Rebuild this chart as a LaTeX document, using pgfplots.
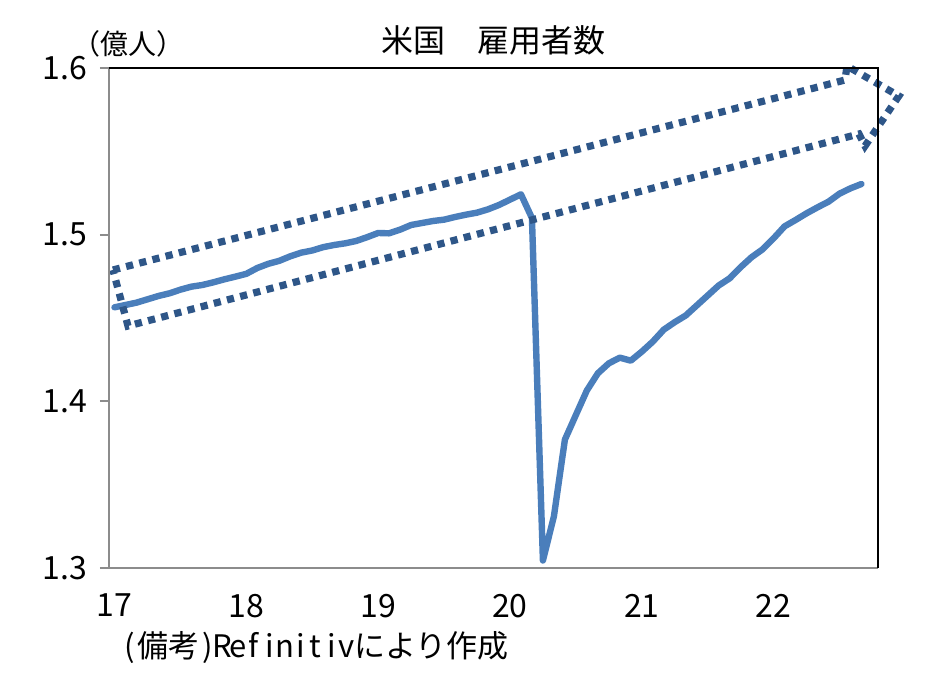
\documentclass[border=0pt]{standalone}
\usepackage{fontspec}
\setmainfont{Noto Sans CJK JP}
\usepackage{pgfplots}
\pgfplotsset{compat=1.18}
\definecolor{lineblue}{RGB}{74,126,187}
\definecolor{boxblue}{RGB}{46,86,136}
\definecolor{axgray}{RGB}{140,140,140}
% half-width cells for latin letters, as in the reference's gothic font
\def\hwloop#1{\ifx#1\relax\else\makebox[0.5em]{#1}\expandafter\hwloop\fi}
\newcommand\hw[1]{\hwloop#1\relax}

\begin{document}
\begin{tikzpicture}
% page = 934x673 px at 0.5pt per px, axis box lower-left at (0,0)
\path[use as bounding box] (-54.5pt,-52.5pt) rectangle (412.5pt,284pt);
\begin{axis}[
    scale only axis,
    width=384.5pt, height=250pt,
    xmin=-0.5, xmax=69.5,
    ymin=1.3, ymax=1.6,
    axis line style={draw=none},
    xtick={0,12,24,36,48,60},
    xticklabels={17,18,19,20,21,22},
    xtick style={draw=none},
    ytick={1.3,1.4,1.5,1.6},
    ytick pos=left,
    ytick style={axgray, line width=1pt},
    tick align=outside,
    major tick length=4.5pt,
    yticklabel style={/pgf/number format/fixed, /pgf/number format/fixed zerofill, /pgf/number format/precision=1, xshift=-3pt},
    /pgf/number format/assume math mode=true,
    tick label style={font=\fontsize{16}{18}\selectfont},
    xticklabel style={yshift=-5pt},
    clip=false,
]
\addplot[lineblue, line width=3.2pt, line join=round, line cap=round] coordinates {
(0,1.4564) (1,1.4578) (2,1.4592) (3,1.4612) (4,1.4632) (5,1.4648)
(6,1.4670) (7,1.4688) (8,1.4698) (9,1.4714) (10,1.4732) (11,1.4748)
(12,1.4765) (13,1.4800) (14,1.4825) (15,1.4843) (16,1.4870) (17,1.4892)
(18,1.4905) (19,1.4925) (20,1.4938) (21,1.4948) (22,1.4962) (23,1.4985)
(24,1.5010) (25,1.5008) (26,1.5030) (27,1.5058) (28,1.5070) (29,1.5082)
(30,1.5090) (31,1.5106) (32,1.5120) (33,1.5132) (34,1.5152) (35,1.5178)
(36,1.5210) (37,1.5242) (38,1.5100) (39,1.3045) (40,1.3310) (41,1.3770)
(42,1.3918) (43,1.4065) (44,1.4168) (45,1.4228) (46,1.4262) (47,1.4244)
(48,1.4298) (49,1.4358) (50,1.4430) (51,1.4475) (52,1.4515) (53,1.4575)
(54,1.4635) (55,1.4695) (56,1.4738) (57,1.4805) (58,1.4865) (59,1.4912)
(60,1.4978) (61,1.5050) (62,1.5088) (63,1.5128) (64,1.5164) (65,1.5198)
(66,1.5246) (67,1.5278) (68,1.5304)
};
% dotted block arrow
\draw[boxblue, line width=3.6pt, dash pattern=on 3.6pt off 3.2pt, line join=miter]
  (axis cs:-0.14,1.4788) -- (axis cs:66.5,1.5928) -- (axis cs:66.68,1.6012)
  -- (axis cs:71.4,1.5832) -- (axis cs:68.32,1.5532) -- (axis cs:67.77,1.5604)
  -- (axis cs:1.23,1.4452) -- cycle;
\node[font=\fontsize{16}{18}\selectfont] at (axis description cs:0.5,1) [yshift=14pt] {米国　雇用者数};
\node[font=\fontsize{14}{16}\selectfont] at (axis description cs:0,1) [xshift=10pt, yshift=12pt] {（億人）};
\node[font=\fontsize{15.5}{17}\selectfont, anchor=west] at (axis description cs:0,0) [xshift=3pt, yshift=-40pt] {\hw{(}備考\hw{)Refinitiv}により作成};
\end{axis}
% frame: gray left/bottom, black top/right
\draw[axgray, line width=1pt] (current axis.north west) -- (current axis.south west) -- (current axis.south east);
\draw[black, line width=1pt] (current axis.north west) -- (current axis.north east) -- (current axis.south east);
\end{tikzpicture}
\end{document}
